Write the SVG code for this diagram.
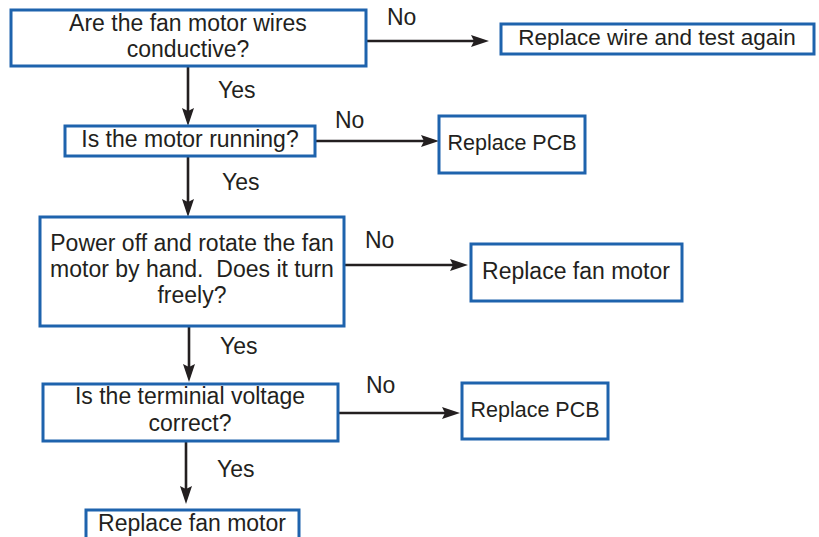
<svg xmlns="http://www.w3.org/2000/svg" width="819" height="537" viewBox="0 0 819 537">
<style>
.box{fill:#ffffff;stroke:#1e63ad;stroke-width:3}
.t{font-family:"Liberation Sans",Arial,sans-serif;font-size:23px;fill:#231f20;text-anchor:middle}
.s{font-size:21.5px}
.lbl{font-family:"Liberation Sans",Arial,sans-serif;font-size:23px;fill:#231f20}
.c{stroke:#231f20;stroke-width:2.6;fill:none;marker-end:url(#ah)}
</style>
<defs>
<marker id="ah" viewBox="0 0 18 12" refX="8" refY="6" markerWidth="18" markerHeight="12" markerUnits="userSpaceOnUse" orient="auto">
<path d="M0,0 L18,6 L0,12 L3,6 z" fill="#231f20"/>
</marker>
</defs>
<rect width="819" height="537" fill="#ffffff"/>
<g id="connectors">
<line class="c" x1="366" y1="41" x2="479" y2="41"/>
<line class="c" x1="188" y1="67" x2="188" y2="116"/>
<line class="c" x1="315" y1="141" x2="429" y2="141"/>
<line class="c" x1="188" y1="156" x2="188" y2="207"/>
<line class="c" x1="344" y1="265" x2="458" y2="265"/>
<line class="c" x1="189" y1="326" x2="189" y2="372"/>
<line class="c" x1="338" y1="413" x2="450" y2="413"/>
<line class="c" x1="186" y1="441" x2="186" y2="494"/>
<text class="lbl" x="387" y="25">No</text>
<text class="lbl" x="218" y="98">Yes</text>
<text class="lbl" x="335" y="128">No</text>
<text class="lbl" x="222" y="190">Yes</text>
<text class="lbl" x="365" y="248">No</text>
<text class="lbl" x="220" y="354">Yes</text>
<text class="lbl" x="366" y="393">No</text>
<text class="lbl" x="217" y="477">Yes</text>
</g>
<g id="n1">
<rect class="box" x="11" y="10" width="355" height="56"/>
<text class="t" x="188" y="31">Are the fan motor wires</text>
<text class="t" x="188" y="57">conductive?</text>
</g>
<g id="n2">
<rect class="box" x="501" y="24" width="313" height="30"/>
<text class="t" x="657" y="45" style="font-size:22.5px">Replace wire and test again</text>
</g>
<g id="n3">
<rect class="box" x="65" y="126" width="250" height="30"/>
<text class="t" x="190" y="147">Is the motor running?</text>
</g>
<g id="n4">
<rect class="box" x="439" y="116" width="146" height="57"/>
<text class="t s" x="512" y="150">Replace PCB</text>
</g>
<g id="n5">
<rect class="box" x="40" y="217" width="304" height="109"/>
<text class="t" x="192" y="251">Power off and rotate the fan</text>
<text class="t" x="192" y="277" xml:space="preserve">motor by hand.  Does it turn</text>
<text class="t" x="192" y="303">freely?</text>
</g>
<g id="n6">
<rect class="box" x="471" y="244" width="211" height="57"/>
<text class="t" x="576" y="279">Replace fan motor</text>
</g>
<g id="n7">
<rect class="box" x="43" y="384" width="295" height="57"/>
<text class="t" x="190" y="404">Is the terminial voltage</text>
<text class="t" x="190" y="431">correct?</text>
</g>
<g id="n8">
<rect class="box" x="462" y="383" width="146" height="56"/>
<text class="t s" x="535" y="417">Replace PCB</text>
</g>
<g id="n9">
<rect class="box" x="86" y="510" width="213" height="40"/>
<text class="t" x="192" y="531">Replace fan motor</text>
</g>
</svg>
